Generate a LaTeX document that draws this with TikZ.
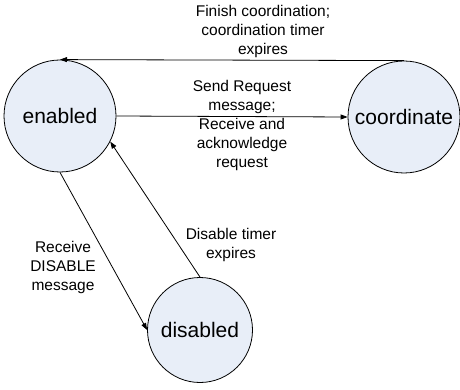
\documentclass[tikz,border=0pt]{standalone}
\usepackage{fontspec}
\setmainfont{Liberation Sans}
\usetikzlibrary{arrows.meta}
\definecolor{statefill}{RGB}{232,238,248}
\begin{document}
\begin{tikzpicture}[x=1pt,y=-1pt,
  state/.style={circle,draw,line width=0.8pt,fill=statefill,minimum size=112pt,inner sep=0pt,font=\fontsize{21}{24}\selectfont},
  lbl/.style={align=center,inner sep=0pt,font=\fontsize{15.5}{19}\selectfont},
  conn/.style={line width=0.8pt,-{Triangle[length=7pt,width=5pt]}}]
\useasboundingbox (0,0) rectangle (460,390);
\node[state] (enabled) at (60,116) {enabled};
\node[state] (coord) at (404,117) {coordinate};
\node[state,minimum size=105pt] (disabled) at (200,330) {disabled};
\draw[conn] (coord.north) -- (enabled.north);
\draw[conn] (enabled.east) -- (coord.west);
\draw[conn] (enabled.south) -- (disabled.west);
\draw[conn] (disabled.north) -- (enabled.-27);
\node[lbl] (l1) at (263,31) {Finish coordination;\\coordination timer\\expires};
\node[lbl] (l2) at (242,125) {Send Request\\message;\\Receive and\\acknowledge\\request};
\node[lbl] (l3) at (63,267) {Receive\\DISABLE\\message};
\node[lbl] (l4) at (231,245) {Disable timer\\expires};
\end{tikzpicture}
\end{document}
